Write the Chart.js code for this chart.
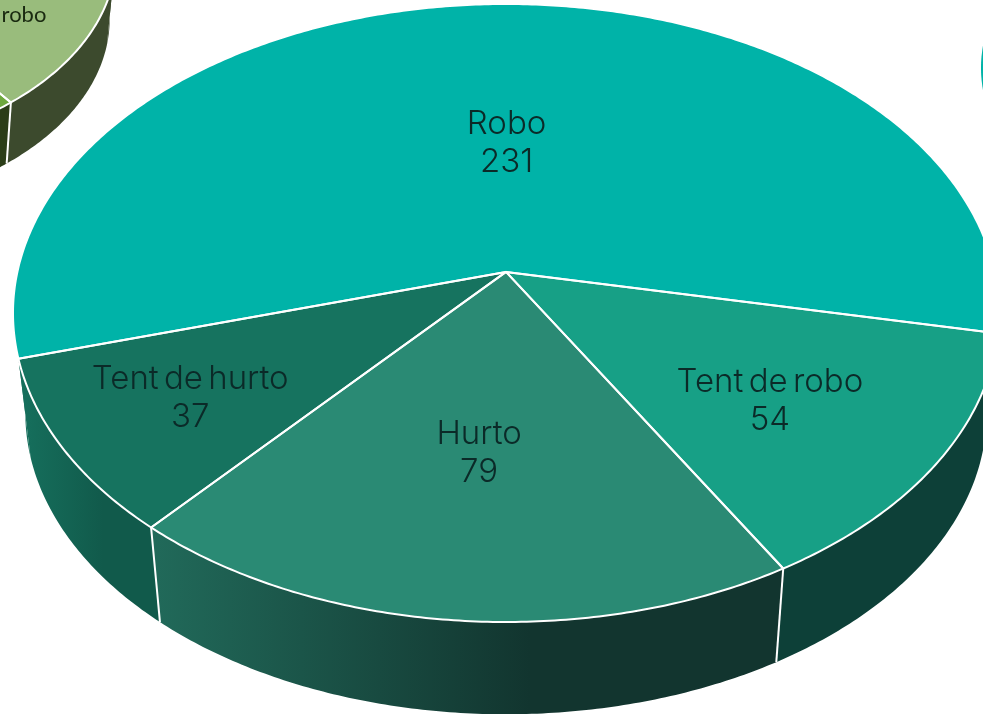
<!DOCTYPE html>
<html lang="es">
<head>
  <meta charset="UTF-8" />
  <title>Delitos</title>
  <script src="https://cdn.jsdelivr.net/npm/chart.js"></script>
  <style>
    body { margin: 0; background: white; overflow: hidden; }
    canvas { position: absolute; left: 0; top: 0; }
  </style>
</head>
<body>
  <canvas id="pie-left" width="983" height="714"></canvas>
  <canvas id="pie-right" width="983" height="714"></canvas>
  <canvas id="pie-main" width="983" height="714"></canvas>

  <script>
    // main pie
    const mainLabels = ['Robo', 'Tent de robo', 'Hurto', 'Tent de hurto'];
    const mainValues = [231, 54, 79, 37];
    const mainColors = ['#00b3a8', '#17a086', '#2a8a74', '#16735f'];
    const mainWalls = [['#16705d', '#0d4038'], ['#0d4038', '#0d4038'], ['#216a5a', '#12352f'], ['#16705d', '#115a4b']];

    // neighbour pie, cut by the left edge: only one slice can be read, the rest is estimated
    const leftLabels = ['Robo', 'Tent de robo', 'Hurto', 'Tent de hurto'];
    const leftValues = [220, 42, 90, 48];
    const leftColors = ['#7fae5a', '#99bc7c', '#6ea83f', '#55862f'];
    const leftWalls = [['#3c4a2d', '#3c4a2d'], ['#3c4a2d', '#3c4a2d'], ['#2b3d18', '#2b3d18'], ['#2b3d18', '#2b3d18']];

    // neighbour pie, only its edge shows on the right
    const rightLabels = ['Robo'];
    const rightValues = [1];
    const rightColors = ['#00b3a8'];
    const rightWalls = [['#00b3a8', '#00b3a8']];

    // circle -> tilted ellipse, the centre of the pie lands off the centre of the ellipse
    function project(s, angle, r) {
      const x = r * Math.cos(angle), y = r * Math.sin(angle);
      const d = 1 + s.tilt * y;
      return {
        x: s.cx + s.rx * x * Math.sqrt(1 - s.tilt * s.tilt) / d,
        y: s.cy + s.ry * (y + s.tilt) / d
      };
    }

    function lower(s, p) {
      return { x: s.cx + (p.x - s.cx) * s.shrink, y: s.cy + s.drop + (p.y - s.cy) * s.shrink };
    }

    function rim(s, start, end) {
      const n = Math.max(2, Math.ceil((end - start) / 0.01));
      const pts = [];
      for (let i = 0; i <= n; i++) pts.push(project(s, start + (end - start) * i / n, 1));
      return pts;
    }

    function slicePath(ctx, s, arc, withApex) {
      const pts = rim(s, arc.startAngle, arc.endAngle);
      if (withApex) pts.unshift(project(s, 0, 0));
      ctx.beginPath();
      pts.forEach((p, i) => i ? ctx.lineTo(p.x, p.y) : ctx.moveTo(p.x, p.y));
      ctx.closePath();
    }

    function makePie(id, labels, values, colors, walls, rotation, shape) {
      const tilted = {
        id: 'tilted',
        beforeDatasetsDraw(chart) {
          const ctx = chart.ctx;
          const arcs = chart.getDatasetMeta(0).data;
          const whole = arcs.length < 2;
          ctx.save();
          ctx.lineJoin = 'round';

          // side walls first
          arcs.forEach((arc, i) => {
            const top = rim(shape, arc.startAngle, arc.endAngle);
            const bottom = top.map(p => lower(shape, p));
            const xs = top.concat(bottom).map(p => p.x);
            const grad = ctx.createLinearGradient(Math.min(...xs), 0, Math.max(...xs), 0);
            grad.addColorStop(0, walls[i][0]);
            grad.addColorStop(0.6, walls[i][1]);
            grad.addColorStop(1, walls[i][1]);
            ctx.beginPath();
            top.concat(bottom.reverse()).forEach((p, k) => k ? ctx.lineTo(p.x, p.y) : ctx.moveTo(p.x, p.y));
            ctx.closePath();
            ctx.fillStyle = grad;
            ctx.fill();
          });

          // white seams on the front of the wall
          arcs.forEach(arc => {
            if (!whole && Math.sin(arc.startAngle) > 0.5) {
              const p = project(shape, arc.startAngle, 1), q = lower(shape, p);
              ctx.beginPath();
              ctx.moveTo(p.x, p.y);
              ctx.lineTo(q.x, q.y);
              ctx.strokeStyle = 'white';
              ctx.lineWidth = 2;
              ctx.stroke();
            }
          });

          // top faces
          arcs.forEach((arc, i) => {
            slicePath(ctx, shape, arc, !whole);
            ctx.fillStyle = colors[i];
            ctx.fill();
          });
          if (!whole) {
            arcs.forEach(arc => {
              slicePath(ctx, shape, arc, true);
              ctx.strokeStyle = 'white';
              ctx.lineWidth = 2;
              ctx.stroke();
            });
          }

          // labels
          ctx.fillStyle = shape.textColor;
          ctx.font = shape.font;
          ctx.wordSpacing = shape.wordSpacing;
          ctx.textAlign = 'center';
          ctx.textBaseline = 'middle';
          arcs.forEach((arc, i) => {
            const spot = shape.labelSpots[i];
            if (!spot) return;
            const p = project(shape, (arc.startAngle + arc.endAngle) / 2, spot);
            const x = p.x + shape.labelNudge[i][0], y = p.y + shape.labelNudge[i][1];
            if (shape.showValue) {
              ctx.fillText(labels[i], x, y - shape.lineGap / 2);
              ctx.fillText(values[i], x, y + shape.lineGap / 2);
            } else {
              ctx.fillText(labels[i], x, y);
            }
          });
          ctx.restore();
          return false;
        }
      };

      return new Chart(document.getElementById(id), {
        type: 'pie',
        data: { labels: labels, datasets: [{ data: values, backgroundColor: colors }] },
        options: {
          responsive: false,
          animation: false,
          rotation: rotation,
          plugins: { legend: { display: false }, tooltip: { enabled: false } }
        },
        plugins: [tilted]
      });
    }

    makePie('pie-main', mainLabels, mainValues, mainColors, mainWalls, 254, {
      cx: 506, cy: 313, rx: 493, ry: 309, tilt: -0.133, drop: 100, shrink: 0.975,
      labelSpots: [0.453, 0.666, 0.55, 0.725],
      labelNudge: [[9, 1], [-15, 5], [0, 2], [-1, 1]],
      font: '300 33px Inter, sans-serif', wordSpacing: '-4px', textColor: '#0b2a28', lineGap: 38, showValue: true
    });

    makePie('pie-left', leftLabels, leftValues, leftColors, leftWalls, -92.8, {
      cx: -200, cy: -45, rx: 316, ry: 198, tilt: -0.133, drop: 64, shrink: 0.98,
      labelSpots: [0, 0.71, 0, 0],
      labelNudge: [[0, 0], [-9, 4], [0, 0], [0, 0]],
      font: '22px Lato, sans-serif', wordSpacing: '0px', textColor: '#1a2a10', lineGap: 24, showValue: false
    });

    makePie('pie-right', rightLabels, rightValues, rightColors, rightWalls, 0, {
      cx: 1297, cy: 68, rx: 316, ry: 198, tilt: -0.133, drop: 0, shrink: 1,
      labelSpots: [0],
      labelNudge: [[0, 0]],
      font: '20px Lato, sans-serif', wordSpacing: '0px', textColor: '#1a2a10', lineGap: 24, showValue: false
    });
  </script>
</body>
</html>
